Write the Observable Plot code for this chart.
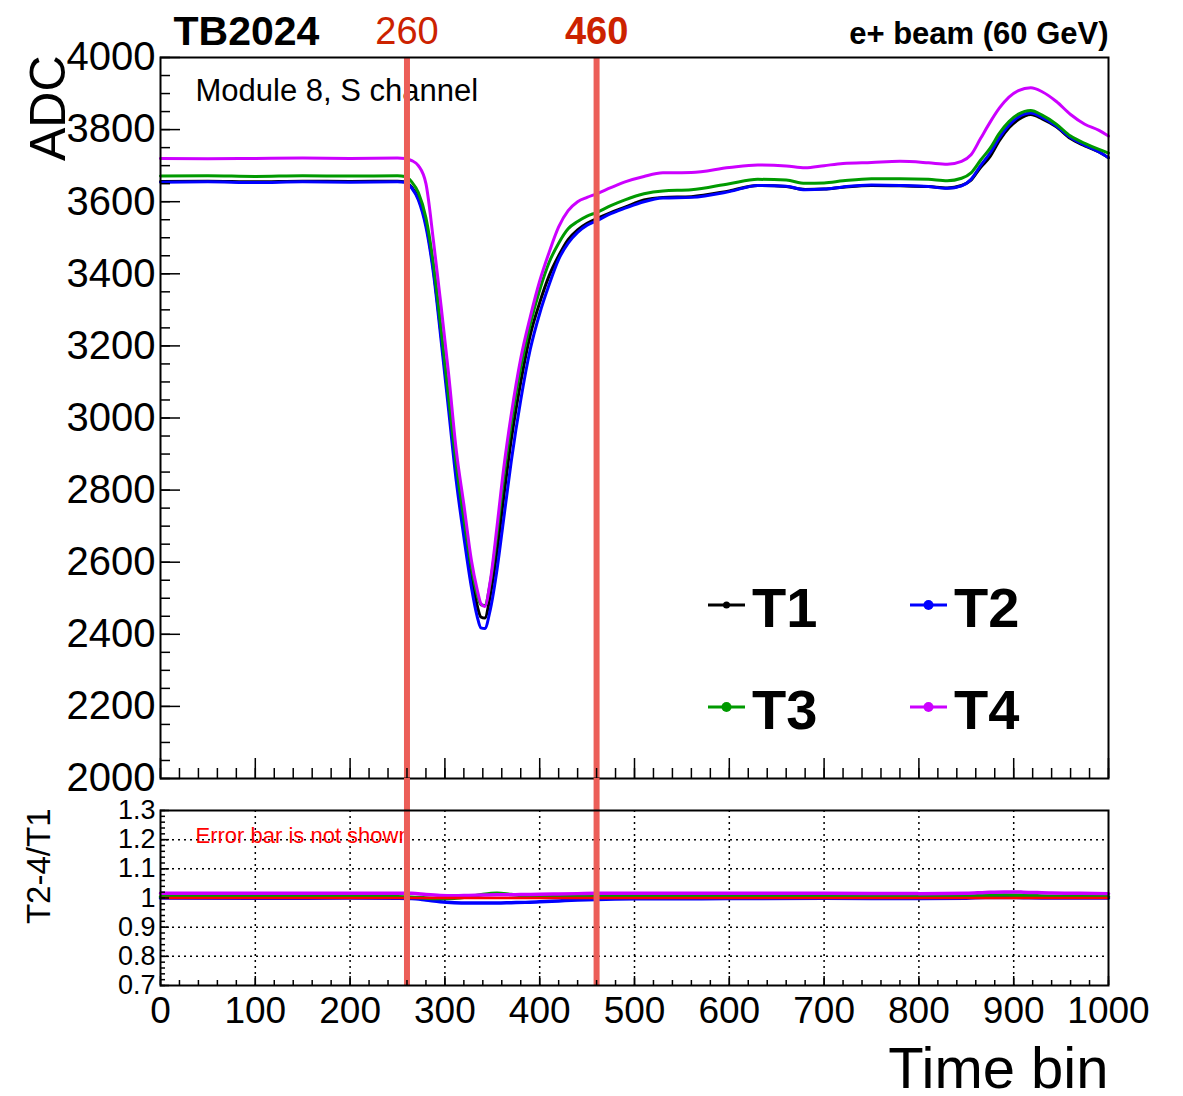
<!DOCTYPE html>
<html><head><meta charset="utf-8">
<script src="https://cdn.jsdelivr.net/npm/d3@7"></script>
<script src="https://cdn.jsdelivr.net/npm/@observablehq/plot@0.6"></script>
<style>
body{margin:0;background:#fff;}
#wrap{position:relative;width:1183px;height:1096px;background:#fff;overflow:hidden;font-family:"Liberation Sans",Arial,sans-serif;}
#wrap svg{position:absolute;left:0;overflow:visible;}
</style></head><body><div id="wrap"></div>
<script>
// ---------- data ----------
const seriesNames = ["T1", "T2", "T3", "T4"];
const seriesColors = ["#000000", "#0000ff", "#009a00", "#cc00ff"];
const timeBins = [0, 50, 100, 150, 200, 250, 258, 265, 272, 280, 288, 296, 304, 312, 320, 328, 334, 338, 342, 348, 355, 362, 370, 380, 390, 400, 410, 420, 430, 440, 450, 460, 475, 490, 510, 530, 560, 600, 630, 660, 680, 700, 720, 750, 780, 810, 830, 845, 855, 865, 875, 885, 895, 905, 918, 930, 945, 960, 975, 990, 1000];
const adcT1 = [3656, 3657, 3655, 3657, 3656, 3657, 3655, 3640, 3610, 3540, 3410, 3230, 3040, 2850, 2700, 2560, 2480, 2448, 2445, 2510, 2630, 2780, 2940, 3100, 3230, 3320, 3395, 3450, 3495, 3522, 3540, 3553, 3570, 3585, 3605, 3612, 3614, 3630, 3645, 3642, 3634, 3635, 3640, 3645, 3644, 3642, 3638, 3645, 3660, 3695, 3725, 3770, 3805, 3828, 3842, 3830, 3808, 3775, 3755, 3738, 3722];
const adcT2 = [3654, 3655, 3653, 3655, 3654, 3655, 3654, 3638, 3605, 3530, 3400, 3215, 3020, 2825, 2670, 2530, 2450, 2418, 2416, 2470, 2580, 2720, 2880, 3050, 3190, 3290, 3370, 3440, 3485, 3515, 3535, 3547, 3567, 3582, 3600, 3610, 3612, 3628, 3645, 3643, 3633, 3635, 3641, 3646, 3645, 3642, 3637, 3644, 3662, 3700, 3735, 3778, 3812, 3835, 3846, 3834, 3810, 3778, 3757, 3738, 3722];
const adcT3 = [3671, 3672, 3670, 3672, 3671, 3672, 3670, 3655, 3625, 3555, 3425, 3245, 3055, 2870, 2720, 2585, 2510, 2482, 2480, 2545, 2680, 2835, 2985, 3140, 3260, 3355, 3432, 3485, 3525, 3545, 3560, 3570, 3589, 3605, 3622, 3630, 3633, 3650, 3662, 3660, 3651, 3652, 3658, 3664, 3664, 3662, 3658, 3665, 3680, 3715, 3748, 3790, 3822, 3843, 3853, 3840, 3815, 3782, 3762, 3745, 3735];
const adcT4 = [3720, 3719, 3720, 3721, 3720, 3721, 3720, 3714, 3700, 3650, 3490, 3310, 3120, 2910, 2760, 2605, 2525, 2485, 2477, 2550, 2700, 2860, 3010, 3165, 3280, 3380, 3460, 3530, 3575, 3600, 3612, 3622, 3639, 3655, 3670, 3680, 3681, 3695, 3702, 3699, 3694, 3700, 3706, 3709, 3712, 3708, 3704, 3712, 3730, 3775, 3820, 3860, 3890, 3908, 3916, 3905, 3878, 3842, 3815, 3798, 3782];

const ratioBins = [0, 100, 200, 250, 265, 280, 295, 310, 325, 340, 355, 370, 385, 400, 420, 440, 460, 500, 600, 700, 800, 850, 870, 890, 910, 940, 970, 1000];
const ratioT2 = [1.0, 0.999, 1.0, 0.999, 0.998, 0.993, 0.987, 0.984, 0.983, 0.983, 0.983, 0.984, 0.985, 0.987, 0.99, 0.993, 0.995, 0.997, 0.998, 0.999, 0.998, 0.999, 1.002, 1.002, 1.001, 1.0, 1.0, 1.0];
const ratioT3 = [1.004, 1.004, 1.004, 1.004, 1.003, 1.0, 0.998, 0.999, 1.004, 1.012, 1.016, 1.012, 1.008, 1.006, 1.005, 1.005, 1.005, 1.006, 1.006, 1.005, 1.005, 1.006, 1.009, 1.01, 1.009, 1.006, 1.005, 1.004];
const ratioT4 = [1.016, 1.016, 1.016, 1.016, 1.016, 1.012, 1.009, 1.008, 1.009, 1.01, 1.011, 1.011, 1.012, 1.013, 1.014, 1.015, 1.016, 1.016, 1.016, 1.016, 1.015, 1.016, 1.019, 1.021, 1.02, 1.017, 1.016, 1.015];
const ratioReference = [1];

const markerBins = [260, 460];
const xTicksMajor = [0, 100, 200, 300, 400, 500, 600, 700, 800, 900, 1000];
const xTicksMinor = d3.range(0, 1001, 20);
const yTicksMajor = [2000, 2200, 2400, 2600, 2800, 3000, 3200, 3400, 3600, 3800, 4000];
const yTicksMinor = d3.range(2000, 4001, 50);
const rTicksMajor = [0.7, 0.8, 0.9, 1, 1.1, 1.2, 1.3];
const rTicksMinor = d3.range(35, 66).map(i => i / 50);

// ---------- build ----------
const FONT = "Liberation Sans, Arial, Helvetica, sans-serif";
const adcSeries = [adcT1, adcT2, adcT3, adcT4];
const adcRows = seriesNames.map((name, i) => timeBins.map((t, j) => ({t, v: adcSeries[i][j], name})));
const ratioSeries = [ratioT2, ratioT3, ratioT4];
const ratioRows = ratioSeries.map((arr, i) => ratioBins.map((t, j) => ({t, r: arr[j], name: seriesNames[i + 1]})));

const wrap = document.getElementById("wrap");
const W = 1183, ML = 160, MR = 75;
const RED_LINE = "#ec5e58";

const topPlot = Plot.plot({
  width: W, height: 780,
  marginTop: 57, marginLeft: ML, marginRight: MR, marginBottom: 2,
  style: {background: "transparent", overflow: "visible", fontFamily: FONT, color: "black"},
  x: {domain: [0, 1000]},
  y: {domain: [2000, 4000]},
  marks: [
    Plot.text(["Module 8, S channel"], {frameAnchor: "top-left", dx: 35, dy: 43, lineAnchor: "bottom", textAnchor: "start", fontSize: 31, fill: "black"}),
    ...adcRows.map((rows, i) => Plot.line(rows, {x: "t", y: "v", stroke: seriesColors[i], strokeWidth: 3, curve: "monotone-x"})),
    Plot.ruleX(markerBins, {x: d => d, stroke: RED_LINE, strokeWidth: 6, insetBottom: -2}),
    Plot.text(markerBins.filter(d => d === 260), {x: d => d, text: d => String(d), frameAnchor: "top", dy: -14, lineAnchor: "bottom", fill: "#cc2200", fontSize: 38}),
    Plot.text(markerBins.filter(d => d === 460), {x: d => d, text: d => String(d), frameAnchor: "top", dy: -14, lineAnchor: "bottom", fill: "#cc2200", fontSize: 38, fontWeight: "bold"}),
    Plot.text(["TB2024"], {frameAnchor: "top-left", dx: 13, dy: -13, lineAnchor: "bottom", textAnchor: "start", fontSize: 41, fontWeight: "bold", fill: "black"}),
    Plot.text(["e+ beam (60 GeV)"], {frameAnchor: "top-right", dy: -14, lineAnchor: "bottom", textAnchor: "end", fontSize: 31, fontWeight: "bold", fill: "black"}),
    Plot.text(["ADC"], {frameAnchor: "top-left", dx: -96, dy: -2, rotate: -90, lineAnchor: "bottom", textAnchor: "end", fontSize: 50, fill: "black"}),
    Plot.axisY(yTicksMinor, {anchor: "left", tickSize: -10, tickPadding: 0, tickFormat: () => "", label: null, strokeWidth: 1.5}),
    Plot.axisY(yTicksMajor, {anchor: "left", tickSize: -20, tickPadding: 25, tickFormat: d => String(d), label: null, fontSize: 40, strokeWidth: 1.5}),
    Plot.axisX(xTicksMinor, {anchor: "bottom", tickSize: -10, tickPadding: 0, tickFormat: () => "", label: null, strokeWidth: 1.5}),
    Plot.axisX(xTicksMajor, {anchor: "bottom", tickSize: -20, tickPadding: 0, tickFormat: () => "", label: null, strokeWidth: 1.5}),
    Plot.frame({stroke: "black", strokeWidth: 2})
  ]
});
topPlot.style.top = "0px";
wrap.appendChild(topPlot);

const bottomPlot = Plot.plot({
  width: W, height: 318,
  marginTop: 32, marginLeft: ML, marginRight: MR, marginBottom: 111,
  style: {background: "transparent", overflow: "visible", fontFamily: FONT, color: "black"},
  x: {domain: [0, 1000]},
  y: {domain: [0.7, 1.3]},
  marks: [
    Plot.gridX(xTicksMajor.slice(1, -1), {stroke: "black", strokeOpacity: 1, strokeWidth: 1.5, strokeDasharray: "2,4"}),
    Plot.gridY(rTicksMajor.slice(1, -1), {stroke: "black", strokeOpacity: 1, strokeWidth: 1.5, strokeDasharray: "2,4"}),
    Plot.text(["Error bar is not shown"], {frameAnchor: "top-left", dx: 35, dy: 32, lineAnchor: "bottom", textAnchor: "start", fontSize: 22, fill: "#ff0000"}),
    ...ratioRows.map((rows, i) => Plot.line(rows, {x: "t", y: "r", stroke: seriesColors[i + 1], strokeWidth: 3.5, curve: "monotone-x"})),
    Plot.ruleY(ratioReference, {y: d => d, stroke: "#ff0000", strokeWidth: 2.5}),
    Plot.ruleX(markerBins, {x: d => d, stroke: RED_LINE, strokeWidth: 6, insetTop: -32}),
    Plot.axisY(rTicksMinor, {anchor: "left", tickSize: -5, tickPadding: 0, tickFormat: () => "", label: null, strokeWidth: 1.5}),
    Plot.axisY(rTicksMajor, {anchor: "left", tickSize: -9, tickPadding: 14, tickFormat: d => d === 1 ? "1" : d.toFixed(1), label: null, fontSize: 27, strokeWidth: 1.5}),
    Plot.axisX(xTicksMinor, {anchor: "bottom", tickSize: -5, tickPadding: 0, tickFormat: () => "", label: null, strokeWidth: 1.5}),
    Plot.axisX(xTicksMajor, {anchor: "bottom", tickSize: -9, tickPadding: 20, tickFormat: d => String(d), label: null, fontSize: 37, strokeWidth: 1.5}),
    Plot.text(["T2-4/T1"], {frameAnchor: "top-left", dx: -111, dy: -2, rotate: -90, lineAnchor: "bottom", textAnchor: "end", fontSize: 33, fill: "black"}),
    Plot.text(["Time bin"], {frameAnchor: "bottom-right", dy: 102, lineAnchor: "bottom", textAnchor: "end", fontSize: 58, fill: "black"}),
    Plot.frame({stroke: "black", strokeWidth: 2})
  ]
});
bottomPlot.style.top = "778px";
wrap.appendChild(bottomPlot);

// ---------- legend (overlay) ----------
const legend = d3.select(wrap).append("svg")
  .attr("width", W).attr("height", 1096)
  .style("top", "0px").style("pointer-events", "none");
const legendPos = [[708, 605], [910, 605], [708, 707], [910, 707]];
const dotR = [3.5, 5, 5, 5];
seriesNames.forEach((name, i) => {
  const [lx, ly] = legendPos[i];
  const g = legend.append("g").attr("transform", `translate(${lx},${ly})`);
  g.append("line").attr("x1", 0).attr("x2", 37).attr("y1", 0).attr("y2", 0).attr("stroke", seriesColors[i]).attr("stroke-width", 3);
  g.append("circle").attr("cx", 18.5).attr("cy", 0).attr("r", dotR[i]).attr("fill", seriesColors[i]);
  g.append("text").attr("x", 44).attr("y", 22).attr("font-family", FONT).attr("font-weight", "bold").attr("font-size", 56).attr("fill", "black").text(name);
});
</script>
</body></html>
